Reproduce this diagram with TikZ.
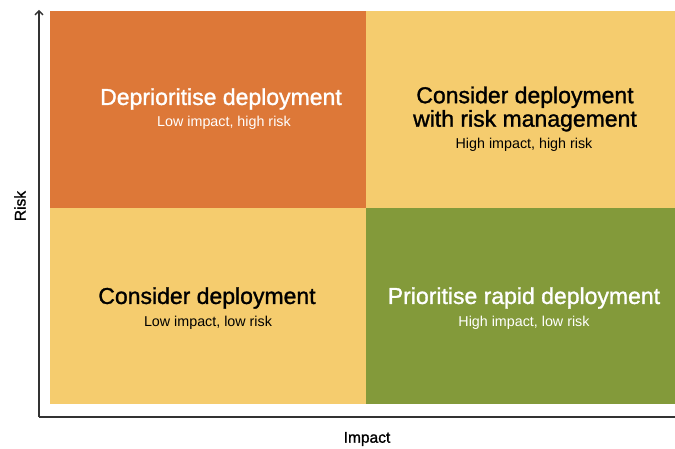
\documentclass[tikz,border=0pt]{standalone}
\usepackage{fontspec}
\setmainfont{Liberation Sans}
\newfontfamily\headfont[FakeBold=1.3]{Liberation Sans}
\usetikzlibrary{arrows.meta}
\definecolor{quadorange}{RGB}{221,120,56}
\definecolor{quadyellow}{RGB}{245,204,110}
\definecolor{quadgreen}{RGB}{131,154,58}
\tikzset{
  title/.style={font=\headfont\fontsize{23}{23.5}\selectfont, align=center},
  subtitle/.style={font=\fontsize{14.3}{16}\selectfont},
  axislabel/.style={font=\headfont\fontsize{15.5}{17}\selectfont},
  axis/.style={line width=1.3pt, draw=black!80}
}
\begin{document}
\begin{tikzpicture}[x=1pt,y=1pt]
  \useasboundingbox (0,0) rectangle (675,448);

  % Filling quadrants
  \fill[quadorange] (50,240) rectangle (366,437);
  \fill[quadyellow] (366,240) rectangle (675,437);
  \fill[quadyellow] (50,44) rectangle (366,240);
  \fill[quadgreen] (366,44) rectangle (675,240);

  % Drawing axes
  \coordinate (origin) at (39,31);
  \coordinate (risktop) at (39,438);
  \coordinate (impactend) at (675,31);
  \draw[axis, -{Straight Barb[length=4pt,width=8pt]}] (origin) -- (risktop);
  \draw[axis] (origin) -- (impactend);

  % Axis labels
  \node[axislabel, rotate=90] (risk) at (20,242) {Risk};
  \node[axislabel] (impact) at (367,9) {Impact};

  % High risk, low impact
  \node[title, text=white] (deprio) at (221,349) {Deprioritise deployment};
  \node[subtitle, text=white] (deprio sub) at (224,325) {Low impact, high risk};

  % High risk, high impact
  \node[title] (manage) at (525,339) {Consider deployment\\with risk management};
  \node[subtitle] (manage sub) at (524,303) {High impact, high risk};

  % Low risk, low impact
  \node[title] (consider) at (207,150) {Consider deployment};
  \node[subtitle] (consider sub) at (208,125) {Low impact, low risk};

  % Low risk, high impact
  \node[title, text=white] (rapid) at (524,150) {Prioritise rapid deployment};
  \node[subtitle, text=white] (rapid sub) at (524,125) {High impact, low risk};
\end{tikzpicture}
\end{document}
